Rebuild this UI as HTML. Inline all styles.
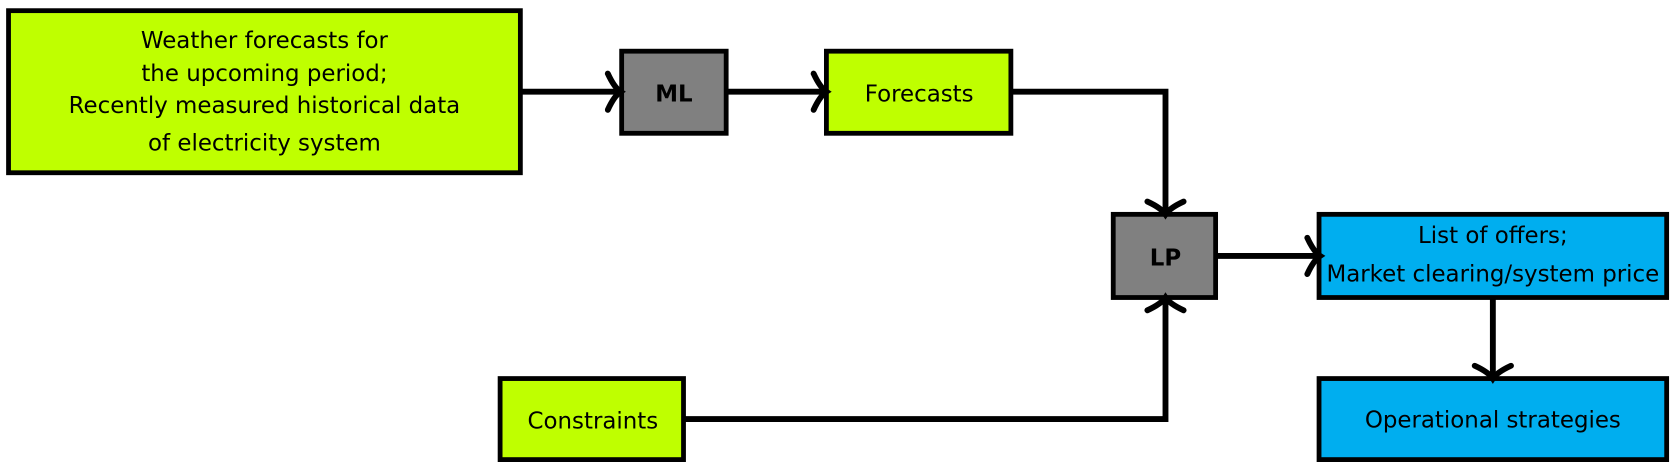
<!DOCTYPE html>
<html><head><style>html,body{margin:0;padding:0;background:#fff;}svg{display:block}</style></head>
<body>
<svg width="1672" height="466" viewBox="0 0 1568 437" preserveAspectRatio="none" xmlns="http://www.w3.org/2000/svg" font-family="DejaVu Sans, Liberation Sans, sans-serif" font-size="21.5" text-anchor="middle">
<g stroke="#000" stroke-width="4.5">
<rect x="8" y="10" width="480" height="152" fill="#BFFF00"/>
<rect x="583" y="48" width="98" height="77" fill="#808080"/>
<rect x="775" y="48" width="173" height="77" fill="#BFFF00"/>
<rect x="1044" y="201" width="96" height="78" fill="#808080"/>
<rect x="1237" y="201" width="326" height="78" fill="#00AEEF"/>
<rect x="1237" y="355" width="326" height="76" fill="#00AEEF"/>
<rect x="469" y="355" width="172" height="76" fill="#BFFF00"/>
</g>
<g stroke="#000" stroke-width="5.5" fill="none" stroke-linecap="round">
<path d="M488 86H580" stroke-linecap="butt"/><path d="M681 86H772" stroke-linecap="butt"/>
<path d="M948 86H1093V198" stroke-linecap="butt"/>
<path d="M1140 240H1234" stroke-linecap="butt"/>
<path d="M641 393H1093V282" stroke-linecap="butt"/>
<path d="M1400 279V352" stroke-linecap="butt"/>
<path d="M570 69Q576 82 582 86Q576 90 570 103"/>
<path d="M763 69Q769 82 775 86Q769 90 763 103"/>
<path d="M1226 223Q1232 236 1238 240Q1232 244 1226 257"/>
<path d="M1076 189Q1089 195 1093 201Q1097 195 1110 189"/>
<path d="M1383 343Q1396 349 1400 355Q1404 349 1417 343"/>
<path d="M1076 291Q1089 285 1093 279Q1097 285 1110 291"/>
</g>
<g fill="#000">
<text x="248" y="45">Weather forecasts for</text>
<text x="248" y="76">the upcoming period;</text>
<text x="248" y="106">Recently measured historical data</text>
<text x="248" y="141">of electricity system</text>
<text x="632" y="95" font-weight="bold">ML</text>
<text x="862" y="95">Forecasts</text>
<text x="1093" y="249" font-weight="bold">LP</text>
<text x="1400" y="228">List of offers;</text>
<text x="1400" y="264">Market clearing/system price</text>
<text x="1400" y="401">Operational strategies</text>
<text x="556" y="402">Constraints</text>
</g>
</svg>
</body></html>
